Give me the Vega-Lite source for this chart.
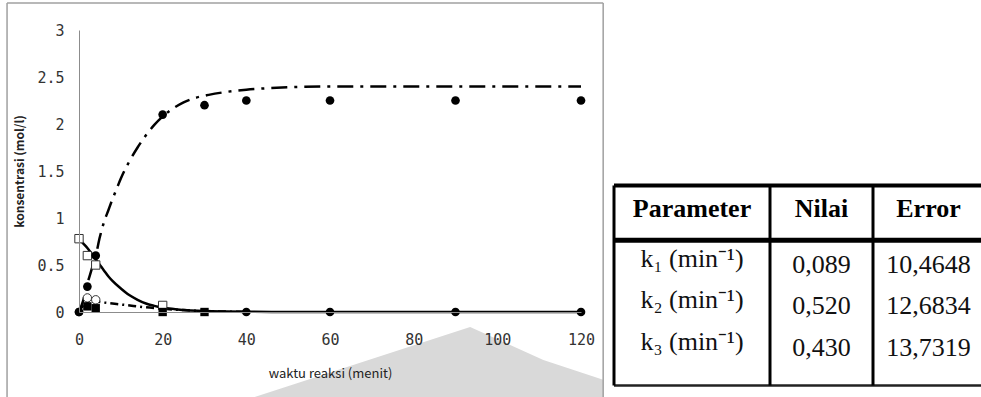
{
  "$schema": "https://vega.github.io/schema/vega-lite/v6.json",
  "background": "white",
  "padding": {"left": 6, "top": 2, "right": 0, "bottom": 0},
  "spacing": 7,
  "config": {"view": {"stroke": null}},
  "datasets": {
    "watermark": [
      {"t": 42, "c": -0.904},
      {"t": 93.5, "c": -0.16},
      {"t": 111, "c": -0.51},
      {"t": 125.3, "c": -0.72}
    ],
    "reactantModel": [
      {"t": 0, "c": 0.78}, {"t": 1, "c": 0.73}, {"t": 2, "c": 0.68}, {"t": 3, "c": 0.62},
      {"t": 4, "c": 0.56}, {"t": 5, "c": 0.5}, {"t": 6, "c": 0.44}, {"t": 7, "c": 0.38},
      {"t": 8, "c": 0.33}, {"t": 10, "c": 0.25}, {"t": 12, "c": 0.18}, {"t": 14, "c": 0.13},
      {"t": 16, "c": 0.09}, {"t": 18, "c": 0.065}, {"t": 20, "c": 0.045}, {"t": 23, "c": 0.03},
      {"t": 26, "c": 0.018}, {"t": 30, "c": 0.01}, {"t": 35, "c": 0.005}, {"t": 40, "c": 0.002},
      {"t": 50, "c": 0}, {"t": 60, "c": 0}, {"t": 90, "c": 0}, {"t": 120, "c": 0}
    ],
    "productModel": [
      {"t": 0, "c": 0}, {"t": 1, "c": 0.12}, {"t": 2, "c": 0.3}, {"t": 3, "c": 0.45},
      {"t": 4, "c": 0.6}, {"t": 5, "c": 0.8}, {"t": 6, "c": 0.96}, {"t": 7, "c": 1.08},
      {"t": 8, "c": 1.2}, {"t": 9, "c": 1.31}, {"t": 10, "c": 1.42}, {"t": 12, "c": 1.6},
      {"t": 14, "c": 1.75}, {"t": 16, "c": 1.88}, {"t": 18, "c": 1.99}, {"t": 20, "c": 2.08},
      {"t": 22, "c": 2.15}, {"t": 25, "c": 2.23}, {"t": 28, "c": 2.28}, {"t": 31, "c": 2.31},
      {"t": 35, "c": 2.34}, {"t": 40, "c": 2.365}, {"t": 45, "c": 2.38}, {"t": 50, "c": 2.39},
      {"t": 60, "c": 2.4}, {"t": 80, "c": 2.4}, {"t": 100, "c": 2.4}, {"t": 120, "c": 2.4}
    ],
    "intermediateModel": [
      {"t": 0, "c": 0}, {"t": 1, "c": 0.07}, {"t": 2, "c": 0.1}, {"t": 3, "c": 0.11},
      {"t": 4, "c": 0.11}, {"t": 6, "c": 0.1}, {"t": 8, "c": 0.09}, {"t": 10, "c": 0.08},
      {"t": 13, "c": 0.065}, {"t": 16, "c": 0.05}, {"t": 20, "c": 0.035}, {"t": 25, "c": 0.02},
      {"t": 30, "c": 0.01}, {"t": 35, "c": 0.005}, {"t": 40, "c": 0}
    ],
    "productObs": [
      {"t": 0, "c": 0}, {"t": 2, "c": 0.27}, {"t": 4, "c": 0.6}, {"t": 20, "c": 2.1},
      {"t": 30, "c": 2.2}, {"t": 40, "c": 2.25}, {"t": 60, "c": 2.25}, {"t": 90, "c": 2.25},
      {"t": 120, "c": 2.25}
    ],
    "reactantObs": [
      {"t": 0, "c": 0.78}, {"t": 2, "c": 0.6}, {"t": 4, "c": 0.5}, {"t": 20, "c": 0.07}
    ],
    "intermediateObs": [
      {"t": 2, "c": 0.15}, {"t": 4, "c": 0.13}
    ],
    "sideObs": [
      {"t": 2, "c": 0.06}, {"t": 4, "c": 0.04}, {"t": 20, "c": 0}, {"t": 30, "c": 0}
    ],
    "zeroObs": [
      {"t": 0, "c": 0}, {"t": 40, "c": 0}, {"t": 60, "c": 0}, {"t": 90, "c": 0}, {"t": 120, "c": 0}
    ],
    "frame": [{"part": "border"}],
    "table": [
      {"row": 0, "Parameter": "Parameter", "Nilai": "Nilai", "Error": "Error"},
      {"row": 1, "Parameter": "k₁ (min⁻¹)", "Nilai": "0,089", "Error": "10,4648"},
      {"row": 2, "Parameter": "k₂ (min⁻¹)", "Nilai": "0,520", "Error": "12,6834"},
      {"row": 3, "Parameter": "k₃ (min⁻¹)", "Nilai": "0,430", "Error": "13,7319"}
    ]
  },
  "hconcat": [
    {
      "width": 502,
      "height": 282,
      "layer": [
        {
          "data": {"name": "watermark"},
          "mark": {"type": "area", "color": "#d9d9d9"},
          "encoding": {
            "x": {
              "field": "t", "type": "quantitative",
              "scale": {"domain": [0, 120], "nice": false},
              "axis": {
                "values": [0, 20, 40, 60, 80, 100, 120],
                "ticks": false, "grid": false,
                "domainColor": "#8c8c8c", "domainWidth": 1,
                "labelFont": "DejaVu Sans Mono", "labelFontSize": 15, "labelColor": "#333333",
                "labelPadding": 20, "labelFlush": false, "labelOverlap": false,
                "title": "waktu reaksi (menit)",
                "titleFont": "Noto Sans CJK JP", "titleFontSize": 13, "titleFontWeight": "normal",
                "titleColor": "#222222", "titlePadding": 20, "zindex": 1
              }
            },
            "y": {
              "field": "c", "type": "quantitative",
              "scale": {"domain": [0, 3], "nice": false, "zero": false},
              "axis": {
                "values": [0, 0.5, 1, 1.5, 2, 2.5, 3],
                "format": "~g",
                "ticks": false, "grid": false,
                "domainColor": "#8c8c8c", "domainWidth": 1,
                "labelFont": "DejaVu Sans Mono", "labelFontSize": 15, "labelColor": "#333333",
                "labelPadding": 15, "labelFlush": false,
                "title": "konsentrasi (mol/l)",
                "titleFont": "Noto Sans CJK JP", "titleFontSize": 12, "titleFontWeight": "bold",
                "titleColor": "#222222", "titlePadding": 10, "zindex": 1
              }
            },
            "y2": {"datum": -1.2}
          }
        },
        {
          "data": {"name": "frame"},
          "mark": {"type": "rule", "color": "#a0a0a0", "strokeWidth": 1.5},
          "encoding": {"x": {"datum": -17.2}, "y": {"datum": 3.287}, "y2": {"datum": -1.2}}
        },
        {
          "data": {"name": "frame"},
          "mark": {"type": "rule", "color": "#a0a0a0", "strokeWidth": 1.5},
          "encoding": {"x": {"datum": 125.3}, "y": {"datum": 3.287}, "y2": {"datum": -1.2}}
        },
        {
          "data": {"name": "frame"},
          "mark": {"type": "rule", "color": "#a0a0a0", "strokeWidth": 1.5},
          "encoding": {"x": {"datum": -17.2}, "x2": {"datum": 125.3}, "y": {"datum": 3.287}}
        },
        {
          "data": {"name": "intermediateModel"},
          "mark": {"type": "line", "color": "black", "strokeWidth": 2.5, "strokeDash": [8, 4, 2, 4], "interpolate": "monotone"},
          "encoding": {"x": {"field": "t", "type": "quantitative"}, "y": {"field": "c", "type": "quantitative"}}
        },
        {
          "data": {"name": "reactantModel"},
          "mark": {"type": "line", "color": "black", "strokeWidth": 2.5, "interpolate": "monotone"},
          "encoding": {"x": {"field": "t", "type": "quantitative"}, "y": {"field": "c", "type": "quantitative"}}
        },
        {
          "data": {"name": "productModel"},
          "mark": {"type": "line", "color": "black", "strokeWidth": 2.5, "strokeDash": [16, 7, 3, 7], "interpolate": "monotone"},
          "encoding": {"x": {"field": "t", "type": "quantitative"}, "y": {"field": "c", "type": "quantitative"}}
        },
        {
          "data": {"name": "reactantObs"},
          "mark": {"type": "point", "shape": "square", "filled": true, "fill": "white", "stroke": "#333333", "strokeWidth": 1, "size": 70, "opacity": 1},
          "encoding": {"x": {"field": "t", "type": "quantitative"}, "y": {"field": "c", "type": "quantitative"}}
        },
        {
          "data": {"name": "intermediateObs"},
          "mark": {"type": "point", "shape": "circle", "filled": true, "fill": "white", "stroke": "#333333", "strokeWidth": 1, "size": 70, "opacity": 1},
          "encoding": {"x": {"field": "t", "type": "quantitative"}, "y": {"field": "c", "type": "quantitative"}}
        },
        {
          "data": {"name": "sideObs"},
          "mark": {"type": "point", "shape": "square", "filled": true, "color": "black", "size": 70, "opacity": 1},
          "encoding": {"x": {"field": "t", "type": "quantitative"}, "y": {"field": "c", "type": "quantitative"}}
        },
        {
          "data": {"name": "zeroObs"},
          "mark": {"type": "point", "shape": "circle", "filled": true, "color": "black", "size": 75, "opacity": 1},
          "encoding": {"x": {"field": "t", "type": "quantitative"}, "y": {"field": "c", "type": "quantitative"}}
        },
        {
          "data": {"name": "productObs"},
          "mark": {"type": "point", "shape": "circle", "filled": true, "color": "black", "size": 75, "opacity": 1},
          "encoding": {"x": {"field": "t", "type": "quantitative"}, "y": {"field": "c", "type": "quantitative"}}
        }
      ]
    },
    {
      "width": 370,
      "height": 282,
      "layer": [
        {
          "data": {"name": "frame"},
          "mark": {"type": "rule", "color": "black", "strokeWidth": 4},
          "encoding": {
            "x": {"datum": 0, "type": "quantitative", "scale": {"domain": [0, 1, 2, 3], "range": [0, 156, 259, 370], "nice": false, "zero": false}, "axis": null},
            "x2": {"datum": 3},
            "y": {"datum": -0.82, "type": "quantitative", "scale": {"domain": [-4.566, 2.229], "reverse": true, "nice": false, "zero": false}, "axis": null}
          }
        },
        {
          "data": {"name": "frame"},
          "mark": {"type": "rule", "color": "black", "strokeWidth": 5},
          "encoding": {"x": {"datum": 0}, "x2": {"datum": 3}, "y": {"datum": 0.5}}
        },
        {
          "data": {"name": "frame"},
          "mark": {"type": "rule", "color": "#222222", "strokeWidth": 2.5},
          "encoding": {"x": {"datum": 0}, "x2": {"datum": 3}, "y": {"datum": 4.0}}
        },
        {
          "data": {"name": "frame"},
          "mark": {"type": "rule", "color": "black", "strokeWidth": 3},
          "encoding": {"x": {"datum": 0}, "y": {"datum": -0.82}, "y2": {"datum": 4.0}}
        },
        {
          "data": {"name": "frame"},
          "mark": {"type": "rule", "color": "black", "strokeWidth": 3},
          "encoding": {"x": {"datum": 1}, "y": {"datum": -0.82}, "y2": {"datum": 4.0}}
        },
        {
          "data": {"name": "frame"},
          "mark": {"type": "rule", "color": "black", "strokeWidth": 3},
          "encoding": {"x": {"datum": 2}, "y": {"datum": -0.82}, "y2": {"datum": 4.0}}
        },
        {
          "data": {"name": "table"},
          "transform": [{"filter": "datum.row == 0"}],
          "mark": {"type": "text", "font": "Liberation Serif", "fontSize": 26, "fontWeight": "bold", "color": "black", "baseline": "middle", "dy": -10},
          "encoding": {"x": {"datum": 0.5}, "y": {"field": "row", "type": "quantitative"}, "text": {"field": "Parameter"}}
        },
        {
          "data": {"name": "table"},
          "transform": [{"filter": "datum.row == 0"}],
          "mark": {"type": "text", "font": "Liberation Serif", "fontSize": 26, "fontWeight": "bold", "color": "black", "baseline": "middle", "dy": -10},
          "encoding": {"x": {"datum": 1.5}, "y": {"field": "row", "type": "quantitative"}, "text": {"field": "Nilai"}}
        },
        {
          "data": {"name": "table"},
          "transform": [{"filter": "datum.row == 0"}],
          "mark": {"type": "text", "font": "Liberation Serif", "fontSize": 26, "fontWeight": "bold", "color": "black", "baseline": "middle", "dy": -10},
          "encoding": {"x": {"datum": 2.5}, "y": {"field": "row", "type": "quantitative"}, "text": {"field": "Error"}}
        },
        {
          "data": {"name": "table"},
          "transform": [{"filter": "datum.row > 0"}],
          "mark": {"type": "text", "font": "Liberation Serif", "fontSize": 26, "color": "#111111", "baseline": "middle", "dy": -2},
          "encoding": {"x": {"datum": 0.5}, "y": {"field": "row", "type": "quantitative"}, "text": {"field": "Parameter"}}
        },
        {
          "data": {"name": "table"},
          "transform": [{"filter": "datum.row > 0"}],
          "mark": {"type": "text", "font": "Liberation Serif", "fontSize": 26, "color": "#111111", "baseline": "middle", "dy": 4},
          "encoding": {"x": {"datum": 1.5}, "y": {"field": "row", "type": "quantitative"}, "text": {"field": "Nilai"}}
        },
        {
          "data": {"name": "table"},
          "transform": [{"filter": "datum.row > 0"}],
          "mark": {"type": "text", "font": "Liberation Serif", "fontSize": 26, "color": "#111111", "baseline": "middle", "dy": 4},
          "encoding": {"x": {"datum": 2.5}, "y": {"field": "row", "type": "quantitative"}, "text": {"field": "Error"}}
        }
      ]
    }
  ]
}
